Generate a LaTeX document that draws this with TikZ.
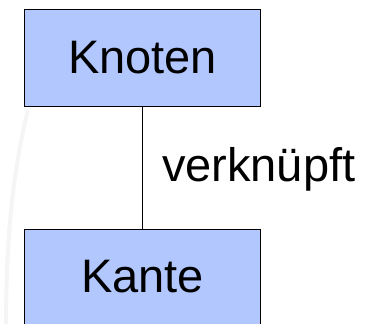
\documentclass[tikz,border=0pt]{standalone}
\usepackage{fontspec}
\setmainfont{Liberation Sans}
\usepackage{tikz}
\usetikzlibrary{positioning}

\definecolor{boxblue}{RGB}{179,199,255}

\tikzset{
    entity/.style={draw=black, fill=boxblue, line width=1pt, minimum width=236pt, minimum height=97pt, inner sep=0pt, text height=33.6pt, text depth=4pt, font=\fontsize{47}{56}\selectfont},
    relation/.style={font=\fontsize{47}{56}\selectfont, inner sep=0pt, anchor=base west}
}

\begin{document}
\begin{tikzpicture}[x=1pt, y=1pt, line width=1pt]
    % fix the page size
    \useasboundingbox (0, 0) rectangle (365, 324);
    \clip (0, 0) rectangle (365, 324);

    % faint background arc
    \draw[black!4, line width=4pt] (28, 214) .. controls (12, 150) and (6, 80) .. (6, -2);

    % draw the two boxes
    \node[entity] (knoten) at (142.5, 265.7) {Knoten};
    \node[entity] (kante)  at (142.5, 46.3)  {Kante};

    % draw the link and its label
    \draw (knoten) -- (kante) node[midway, relation, xshift=19pt, yshift=-13.7pt] (verk) {verknüpft};
\end{tikzpicture}
\end{document}
